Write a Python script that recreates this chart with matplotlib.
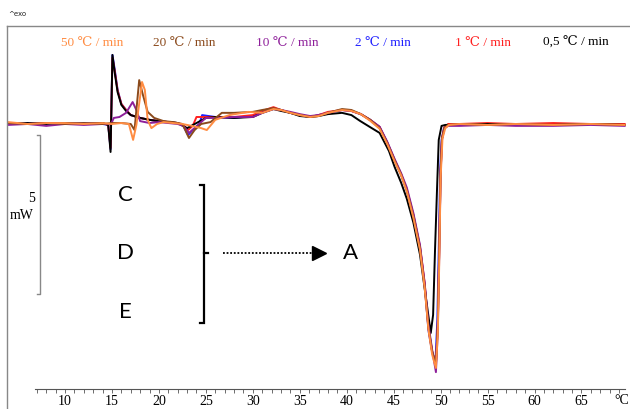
import matplotlib
matplotlib.use("Agg")
import matplotlib.pyplot as plt
from matplotlib.ticker import FixedLocator
from matplotlib.lines import Line2D

# ---------------- data (temperature in °C, heat flow in mW, baseline = 0) ----------------
labels = ["50 \u2103 / min", "20 \u2103 / min", "10 \u2103 / min", "2 \u2103 / min", "1 \u2103 / min", "0,5 \u2103 / min"]
colors = ["#FF8C42", "#8B4A1C", "#8E1F9A", "#2020FF", "#FF2020", "#000000"]

T_black = [3.9, 6, 8, 10, 12, 14, 14.6, 14.85, 15.05, 15.3, 15.6, 16.0, 16.5, 17, 18, 19, 20, 21, 22, 23, 24, 25, 26, 28,
           30, 31, 32.2, 33, 34, 35, 36.1, 37, 38, 39.5, 40.5, 41.4, 42.5, 43.5, 44.5, 45.1, 45.8, 46.4, 47.1, 47.8,
           48.5, 48.95, 49.2, 49.4, 49.6, 49.8, 50.1, 50.5, 52, 55, 58, 62, 66, 69.6]
mW_black = [0, 0.03, 0, 0.03, 0, 0.03, -0.03, -0.88, 2.17, 1.60, 1.00, 0.60, 0.41, 0.28, 0.19, 0.13, 0.09, 0.06, 0.03,
            -0.13, 0.03, 0.19, 0.22, 0.19, 0.22, 0.35, 0.47, 0.41, 0.35, 0.25, 0.22, 0.25, 0.31, 0.35, 0.28, 0.10,
            -0.10, -0.28, -0.85, -1.35, -1.85, -2.35, -3.10, -4.10, -5.60, -6.57, -6.0, -4.0, -2.2, -0.5, -0.06,
            -0.03, -0.03, 0, -0.03, -0.03, 0, -0.03]

T_red = [3.9, 6, 8, 10, 12, 14, 14.6, 14.85, 15.05, 15.3, 15.6, 16.0, 16.5, 17, 18, 19, 20, 21, 22, 22.6, 23.1, 23.6,
         24.0, 24.5, 26, 28, 30, 31, 32.2, 33, 34, 35, 36.1, 37, 38, 39.5, 40.5, 41.5, 42.5, 43.5, 44.3, 45.1, 45.8,
         46.4, 47.1, 47.8, 48.3, 48.7, 49.1, 49.5, 49.7, 49.85, 50.0, 50.15, 50.4, 50.8, 52, 55, 58, 62, 66, 69.6]
mW_red = [0.03, 0, 0.03, 0.03, 0, 0.03, -0.03, -0.75, 2.08, 1.65, 1.05, 0.63, 0.44, 0.28, 0.19, 0.13, 0.09, 0.06, 0.03,
          -0.03, -0.19, -0.06, 0.22, 0.22, 0.22, 0.22, 0.28, 0.41, 0.53, 0.44, 0.35, 0.28, 0.22, 0.28, 0.38, 0.44,
          0.41, 0.31, 0.13, -0.09, -0.57, -1.13, -1.58, -2.05, -2.86, -3.85, -5.0, -6.4, -7.15, -7.55, -6.3, -4.0,
          -1.5, -0.45, -0.10, 0, 0, 0.03, 0, 0.03, 0, 0]

T_blue = [3.9, 6, 8, 10, 12, 14, 14.6, 14.85, 15.05, 15.3, 15.6, 16.0, 16.5, 17, 18, 19, 20, 21, 22, 22.6, 23.1, 23.6,
          24.3, 24.6, 26, 28, 30, 31, 32.2, 33, 34, 35, 36.1, 37, 38, 39.5, 40.5, 41.5, 42.5, 43.5, 44.3, 45.1, 45.8,
          46.4, 47.1, 47.8, 48.3, 48.7, 49.1, 49.45, 49.65, 49.8, 49.95, 50.1, 50.35, 50.7, 52, 55, 58, 62, 66, 69.6]
mW_blue = [0, 0.03, 0.03, 0, 0.03, 0, -0.03, -0.79, 2.17, 1.70, 1.07, 0.63, 0.44, 0.28, 0.19, 0.13, 0.09, 0.06, 0.03,
           -0.06, -0.35, -0.19, 0, 0.28, 0.22, 0.19, 0.25, 0.38, 0.50, 0.44, 0.35, 0.28, 0.22, 0.28, 0.35, 0.44, 0.41,
           0.31, 0.13, -0.09, -0.57, -1.13, -1.60, -2.08, -2.86, -3.87, -5.06, -6.48, -7.17, -7.48, -6.16, -3.96,
           -1.45, -0.50, -0.13, -0.03, -0.03, 0, -0.03, -0.03, 0, -0.03]

T_purple = [3.9, 6, 8, 10, 12, 14, 14.9, 15.2, 15.8, 16.5, 17.2, 17.6, 18, 19, 20, 21, 22, 22.6, 23.2, 23.8, 24.5, 25,
            26, 28, 30, 31, 32.2, 33, 34, 35, 36.1, 37, 38, 39.5, 40.5, 41.5, 42.5, 43.5, 44.3, 45.1, 45.8, 46.4,
            47.1, 47.8, 48.3, 48.7, 49.1, 49.5, 49.7, 49.85, 50.0, 50.15, 50.4, 50.8, 52, 55, 58, 62, 66, 69.6]
mW_purple = [-0.03, 0, -0.06, 0, -0.03, 0, 0, 0.19, 0.22, 0.35, 0.69, 0.44, 0.09, 0.03, 0.06, 0.03, 0, -0.06, -0.28,
             -0.13, 0.06, 0.19, 0.19, 0.22, 0.22, 0.35, 0.47, 0.44, 0.38, 0.31, 0.25, 0.28, 0.35, 0.44, 0.41, 0.31,
             0.13, -0.09, -0.55, -1.10, -1.55, -2.0, -2.80, -3.80, -5.0, -6.3, -7.1, -7.80, -6.5, -4.2, -1.6, -0.5,
             -0.13, -0.06, -0.06, -0.03, -0.06, -0.06, -0.03, -0.06]

T_brown = [3.9, 6, 8, 10, 12, 14, 15, 16, 17.0, 17.4, 17.9, 18.3, 18.8, 19.5, 20.5, 21.5, 22.5, 23.2, 23.8, 24.5, 25.5,
           26.7, 28, 30, 31, 32.2, 33, 34, 35, 36.1, 37, 38, 39.5, 40.5, 41.5, 42.5, 43.5, 44.3, 45.1, 45.8, 46.4,
           47.1, 47.8, 48.3, 48.7, 49.1, 49.5, 49.7, 49.85, 50.0, 50.15, 50.4, 50.8, 52, 55, 58, 62, 66, 69.6]
mW_brown = [0.03, 0, 0.03, 0, 0.03, 0, 0.03, 0.03, 0, -0.19, 1.38, 0.91, 0.38, 0.19, 0.09, 0.06, 0.0, -0.44, -0.19,
            0.0, 0.06, 0.35, 0.35, 0.38, 0.44, 0.50, 0.44, 0.35, 0.28, 0.22, 0.25, 0.35, 0.47, 0.44, 0.31, 0.13,
            -0.13, -0.60, -1.15, -1.60, -2.10, -2.90, -3.90, -5.1, -6.4, -7.15, -7.58, -6.3, -4.0, -1.5, -0.45,
            -0.13, -0.03, 0, -0.03, 0, -0.03, 0, -0.03]

T_orange = [3.9, 6, 8, 10, 12, 14, 15, 16, 16.8, 17.25, 17.6, 18.2, 18.5, 18.8, 19.2, 19.8, 20.5, 21.5, 22.5, 23.5,
            24.5, 25.1, 26, 27.5, 29.5, 31, 32.2, 33, 34, 35, 36.1, 37, 38, 39.5, 40.5, 41.5, 42.5, 43.5, 44.3, 45.1,
            45.8, 46.4, 47.1, 47.8, 48.3, 48.7, 49.1, 49.5, 49.7, 49.85, 50.0, 50.2, 50.5, 50.9, 52, 55, 58, 62, 66,
            69.6]
mW_orange = [0.06, 0, 0.03, 0.03, 0, 0.03, 0, 0.03, 0, -0.50, -0.03, 1.32, 1.07, 0.13, -0.13, 0, 0.06, 0.03, 0.0,
             -0.06, -0.13, -0.19, 0.13, 0.28, 0.38, 0.35, 0.47, 0.44, 0.35, 0.28, 0.22, 0.25, 0.35, 0.44, 0.41, 0.31,
             0.10, -0.15, -0.62, -1.18, -1.62, -2.12, -2.95, -3.95, -5.15, -6.45, -7.25, -7.67, -6.6, -4.4, -1.7,
             -0.45, -0.13, -0.03, 0, -0.03, 0, -0.03, 0, -0.03]

x_major_ticks = [10, 15, 20, 25, 30, 35, 40, 45, 50, 55, 60, 65]
x_minor_ticks = list(range(7, 70))
scale_bar_mW = 5

# ---------------- figure ----------------
W, H = 630, 409
fig = plt.figure(figsize=(W / 100, H / 100), dpi=100)
ax = fig.add_axes([7 / W, (H - 389) / H, 620 / W, (389 - 26) / H])
ax.set_xlim(3.82, 69.85)
ax.set_ylim(-8.33, 3.08)

serif = ["Liberation Serif", "DejaVu Serif"]

series = [
    (T_blue, mW_blue, 3),
    (T_red, mW_red, 4),
    (T_black, mW_black, 5),
    (T_purple, mW_purple, 2),
    (T_brown, mW_brown, 1),
    (T_orange, mW_orange, 0),
]
for T, y, ci in series:
    ax.plot(T, y, color=colors[ci], lw=1.4, solid_joinstyle="round", zorder=3)

# axes styling
for s in ["left", "right", "top"]:
    ax.spines[s].set_visible(False)
ax.spines["bottom"].set_color("#555555")
ax.spines["bottom"].set_linewidth(0.8)
ax.spines["bottom"].set_bounds(6.8, 69.6)
ax.set_yticks([])
ax.xaxis.set_major_locator(FixedLocator(x_major_ticks))
ax.xaxis.set_minor_locator(FixedLocator(x_minor_ticks))
ax.tick_params(axis="x", which="both", direction="out", length=3, width=0.6, color="#555555",
               pad=1.5, labelsize=10)
for lab in ax.get_xticklabels():
    lab.set_family(serif)
ax.annotate("°C", xy=(69.3, 0), xycoords=("data", "axes fraction"), xytext=(0, -3.5),
            textcoords="offset points", ha="center", va="top", fontsize=10, family=serif)

# frame lines
fig.add_artist(Line2D([7 / W, 7 / W], [0, (H - 26) / H], color="#888888", lw=1.0))
fig.add_artist(Line2D([7 / W, 1], [(H - 26) / H, (H - 26) / H], color="#888888", lw=1.0))
fig.text(8 / W, 1 - 14 / H, "^exo", fontsize=5, ha="left", va="center", color="#222222")

# legend texts
legend_x = [92, 184, 287, 383, 483, 576]
for lx, lab, c in zip(legend_x, labels, colors):
    fig.text(lx / W, 1 - 43 / H, lab, color=c, fontsize=9.5, ha="center", va="center", family=serif)

# scale bar (5 mW)
sb_top = -0.35
sb_x = 7.34
ax.plot([sb_x - 0.32, sb_x, sb_x, sb_x - 0.32], [sb_top, sb_top, sb_top - scale_bar_mW, sb_top - scale_bar_mW],
        color="#888888", lw=1.0, clip_on=False)
fig.text(32 / W, 1 - 199 / H, str(scale_bar_mW), fontsize=10, ha="center", va="center", family=serif)
fig.text(34 / W, 1 - 215 / H, "mW", fontsize=10, ha="right", va="center", family=serif)

# annotations C, D, E -> A
letter_font = dict(fontsize=16, family=["Lato", "DejaVu Sans"], ha="center", va="center")
for txt, yy in zip(["C", "D", "E"], [-2.23, -4.06, -5.91]):
    ax.text(16.39, yy, txt, **letter_font)
ax.text(40.35, -4.06, "A", **letter_font)
bx = 24.80
ax.plot([bx - 0.42, bx, bx, bx - 0.42], [-1.92, -1.92, -6.26, -6.26], color="black", lw=1.6,
        solid_joinstyle="miter")
ax.plot([bx, bx + 0.45], [-4.06, -4.06], color="black", lw=1.6)
ax.plot([26.83, 36.4], [-4.06, -4.06], color="black", lw=1.3, ls=(0, (1, 1)))
ax.plot([37.1], [-4.06], marker=">", color="black", markersize=10, ls="none")

fig.savefig("out.png", dpi=100)
